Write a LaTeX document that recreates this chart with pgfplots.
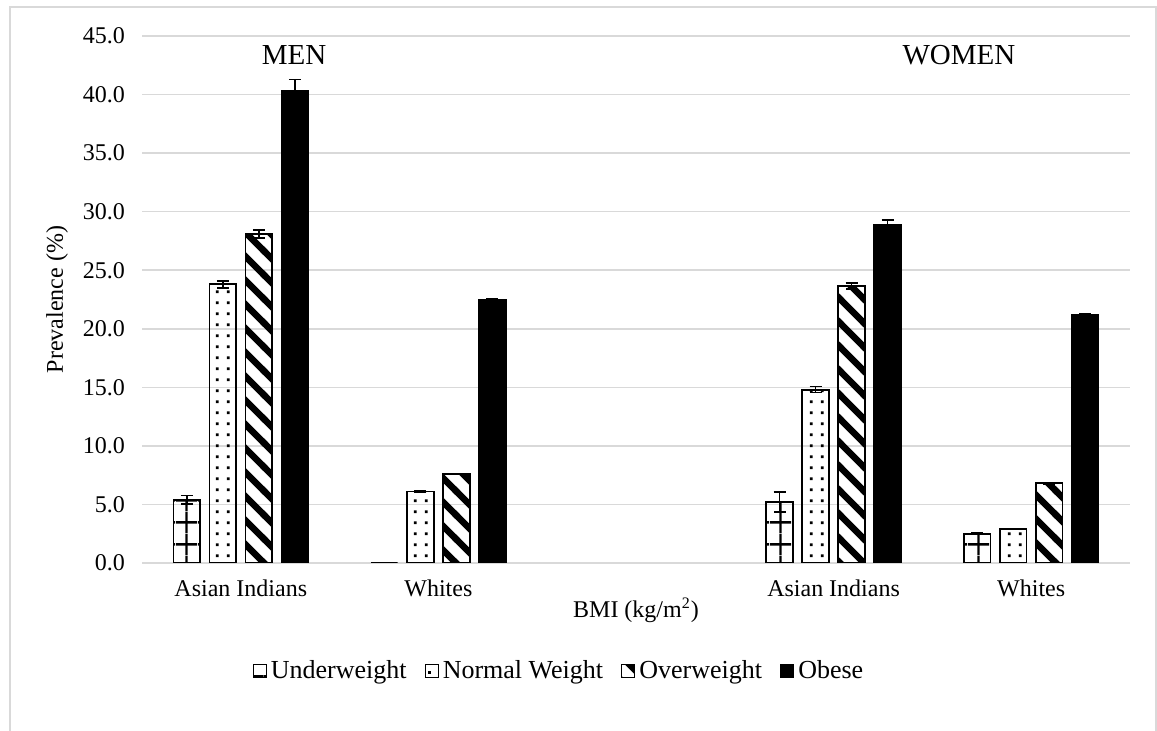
\documentclass[border=0pt]{standalone}
\usepackage{fontspec}
\setmainfont{Liberation Serif}
\usepackage{pgfplots}
\pgfplotsset{compat=1.18}
\usetikzlibrary{patterns.meta}

\tikzdeclarepattern{
  name=biggrid, type=uncolored,
  bottom left={(0pt,0pt)}, top right={(11pt,11pt)},
  tile size={(11pt,11pt)},
  code={
    \draw[line width=1.2pt] (0pt,5.5pt) -- (11pt,5.5pt);
    \draw[line width=1.2pt] (5.5pt,0pt) -- (5.5pt,11pt);
  }
}
\tikzdeclarepattern{
  name=bigdots, type=uncolored,
  bottom left={(0pt,0pt)}, top right={(5.3pt,5.3pt)},
  tile size={(5.3pt,5.3pt)},
  code={\fill (2pt,2pt) rectangle (3.4pt,3.4pt);}
}
\tikzdeclarepattern{
  name=thickstripes, type=uncolored,
  bottom left={(-2pt,-2pt)}, top right={(14pt,14pt)},
  tile size={(12pt,12pt)},
  code={\draw[line width=3.2pt] (-2pt,14pt) -- (14pt,-2pt);}
}
\definecolor{gridgray}{HTML}{D9D9D9}

\begin{document}
\begin{tikzpicture}
\useasboundingbox (0,0) rectangle (578.5pt,365.5pt);
\draw[gridgray, line width=0.8pt] (5pt,-2pt) -- (5pt,362pt) -- (578pt,362pt) -- (578pt,-2pt);
\begin{axis}[
  at={(71pt,84pt)}, anchor=south west,
  scale only axis, width=494pt, height=263.5pt,
  xmin=-0.5, xmax=4.5, ymin=0, ymax=45,
  ytick={0,5,...,45},
  xtick={0,1,3,4},
  xticklabels={Asian Indians, Whites, Asian Indians, Whites},
  ymajorgrids, grid style={gridgray, line width=0.8pt},
  axis line style={draw=none},
  major tick length=0pt,
  tick label style={font=\fontsize{12}{14}\selectfont},
  /pgf/number format/assume math mode=true,
  yticklabel style={/pgf/number format/.cd, fixed, fixed zerofill, precision=1, /tikz/.cd, xshift=-5pt},
  xticklabel style={yshift=-5pt},
  xlabel={BMI (kg/m\textsuperscript{2})},
  ylabel={Prevalence (\%)},
  label style={font=\fontsize{12}{14}\selectfont},
  xlabel style={at={(axis description cs:0.5,-0.0892)}, anchor=center},
  ylabel style={at={(axis description cs:-0.086,0.5)}, anchor=center},
  legend style={at={(axis description cs:0.423,-0.205)}, anchor=center, draw=none,
    font=\fontsize{13}{15}\selectfont, legend columns=4,
    /tikz/every even column/.append style={column sep=7pt}},
  ybar, bar width=13.3pt,
  every axis plot post/.append style={
    legend image code/.code={\draw[#1, line width=0.6pt] (0pt,-3.2pt) rectangle (6.5pt,3.3pt);}},
  error bars/y dir=both, error bars/y explicit,
  error bars/error bar style={line width=0.75pt, black},
  error bars/error mark options={rotate=90, mark size=3pt, line width=0.75pt, black},
]
\addplot[draw=black, line width=0.9pt, pattern=biggrid, pattern color=black, bar shift=-27pt]
  coordinates {(0,5.4) +- (0,0.35) (1,0) +- (0,0) (3,5.2) +- (0,0.85) (4,2.5) +- (0,0.05)};
\addplot[draw=black, line width=0.9pt, pattern=bigdots, pattern color=black, bar shift=-9pt]
  coordinates {(0,23.8) +- (0,0.3) (1,6.1) +- (0,0.05) (3,14.8) +- (0,0.25) (4,2.9) +- (0,0.05)};
\addplot[draw=black, line width=0.9pt, pattern=thickstripes, pattern color=black, bar shift=9pt]
  coordinates {(0,28.1) +- (0,0.35) (1,7.6) +- (0,0.05) (3,23.65) +- (0,0.25) (4,6.8) +- (0,0.05)};
\addplot[draw=black, line width=0.9pt, fill=black, bar shift=27pt]
  coordinates {(0,40.3) +- (0,1.0) (1,22.5) +- (0,0.1) (3,28.9) +- (0,0.4) (4,21.2) +- (0,0.05)};
\legend{Underweight, Normal Weight, Overweight, Obese}
\node[font=\fontsize{14.5}{17}\selectfont] at (axis cs:0.27,43.4) {MEN};
\node[font=\fontsize{14.5}{17}\selectfont] at (axis cs:3.634,43.4) {WOMEN};
\end{axis}
\end{tikzpicture}
\end{document}
